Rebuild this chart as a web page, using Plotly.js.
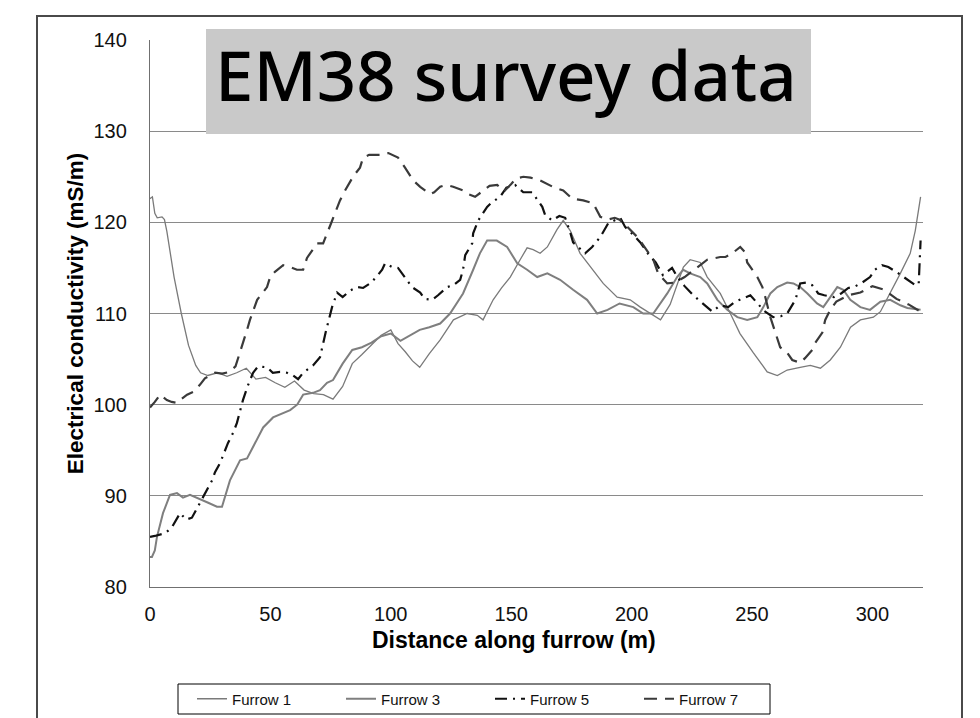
<!DOCTYPE html>
<html>
<head>
<meta charset="utf-8">
<script src="https://cdn.plot.ly/plotly-3.0.1.min.js"></script>
<style>
  html, body { margin: 0; padding: 0; background: #ffffff; }
  #chart { width: 980px; height: 718px; }
</style>
</head>
<body>
<div id="chart"></div>
<script>
// ---- Data ----
const seriesNames = ["Furrow 1", "Furrow 3", "Furrow 5", "Furrow 7"];
const titleText = "EM38 survey data";
const xTitle = "Distance along furrow (m)";
const yTitle = "Electrical conductivity (mS/m)";
const xTicks = [0, 50, 100, 150, 200, 250, 300];
const yTicks = [80, 90, 100, 110, 120, 130, 140];

const furrow1X = [0,1,2,3,5,6,7,10,13,16,19,21,24,28,32,36,40,44,48,52,56,60,64,68,72,76,80,84,88,92,96,100,103,106,109,112,116,120.5,126,131.7,135.9,138.3,142.5,146,149.6,153.7,156.6,159.1,162,165,169,171.6,174.5,178.6,182.8,188.2,194,199.4,203.6,207.7,212,216,221.5,224.3,228.5,231.4,236.8,241,245,250.5,256.3,260.5,264.6,270,274.2,278.4,282.5,286.7,290.9,295,300.4,303.3,307.4,311.6,315.7,317.8,320];
const furrow1Y = [122.6,122.8,121,120.5,120.6,120.3,119,114,110,106.5,104.3,103.5,103.2,103.5,103.1,103.5,104.0,102.8,103.0,102.4,101.9,102.6,101.6,101.2,101.1,100.6,102,104.5,105.5,106.5,107.6,108.2,106.7,105.8,104.8,104.1,105.6,107.1,109.3,110.0,109.8,109.3,111.5,112.8,114.0,115.9,117.2,117.0,116.6,117.3,119.2,120.2,119.1,116.6,115.1,113.3,111.8,111.5,110.7,110.0,109.3,111,115.1,115.9,115.6,114.0,112.2,110.0,107.8,105.7,103.6,103.2,103.8,104.1,104.3,104.0,104.9,106.3,108.5,109.3,109.6,110.2,112.2,114.4,116.6,119.1,122.8];

const furrow3X = [0,0.8,2,2.9,5.4,8.3,11.2,13.7,16.6,19.5,23.7,27.8,29.9,33.2,37.4,40.3,42.8,47,51.1,55.3,58.2,61.1,63.6,67.7,70.6,73.5,76,80,84,88,92,96,100,104,108,112,116,120.5,124.6,130,134.2,137,140,144,148.3,152.5,156.6,160.8,165,170.3,175.7,181.5,185.7,190,195,200.7,204.8,209,214.8,218.9,221.4,224.3,228.5,231.4,235.6,239.7,243.9,248,252.2,254.7,257.6,260.5,264.6,267.2,270,273,277,279.6,282.5,285.4,287.9,290.8,295,299,303.3,307.4,311.6,314.5,320];
const furrow3Y = [83.3,83.3,84,85.5,88.1,90.1,90.3,89.8,90.1,89.8,89.3,88.8,88.8,91.7,93.9,94.1,95.4,97.5,98.6,99.1,99.4,100.0,101.1,101.3,101.6,102.4,102.7,104.5,106.0,106.3,106.8,107.5,107.8,107.0,107.6,108.2,108.5,108.9,110.0,112.2,114.8,116.6,118.0,118.0,117.3,115.5,114.8,114.0,114.4,113.7,112.6,111.5,110.0,110.4,111.1,110.7,110.0,110.0,112.2,114.0,114.8,114.4,114.0,113.3,111.5,110.4,109.6,109.3,109.6,110.7,112.2,112.9,113.4,113.3,112.9,112.2,111.1,110.7,111.8,112.9,112.6,111.5,110.7,110.4,111.3,111.5,110.9,110.6,110.4];

const furrow5X = [0,2,6.2,9,12.5,15,17.4,19.9,22.8,25.8,27,29.1,32.4,34.5,36.1,38.6,40.5,42.8,44.9,48.6,51,54,56.9,59.4,61.5,63.6,67.7,70.6,73,75.6,77.7,80,83,86,88.5,91.4,94,96.4,97.6,100.5,103,105.9,108.8,112.2,114,117.2,119.6,123.4,126,128.8,130,130.9,133.8,134.2,136.3,140,142,145.4,148,151.6,155,158.7,162.9,164.1,167,170,172.4,174.5,175.7,180.7,183.6,187,190.3,195.3,197.3,200,203.6,207,210,213,216.8,219,222,225.6,228.5,233.5,236.8,240.1,243,246.4,249.3,252,255,258.8,262,264.6,268,270,272.5,275,277.5,280,284,287,290,293,295.8,299,301,304,306.6,310.3,312.8,315,317.8,319.2,320];
const furrow5Y = [85.5,85.6,85.9,86.5,88.1,87.4,87.6,88.8,90.1,91.7,92.6,93.6,95.8,96.9,98,100.5,102,103.5,104.2,104.1,103.5,103.6,103.5,103.2,102.8,103.5,104.3,105.2,108,110.7,112.3,111.8,112.5,112.9,112.8,113.3,114,114.8,115.5,115.1,115,114.0,112.9,112.3,111.6,111.5,112.0,112.9,113.1,113.7,114.8,116.4,117.7,118.8,120.2,121.7,122.2,122.8,123.8,124.1,123.3,123.3,121.7,120.8,120.2,120.7,120.5,118.9,117.8,116.6,117.3,118.4,119.9,120.5,119.5,118.8,117.8,116.5,115.6,114.2,115,114,113,112,111.3,110.2,110.9,110.7,111.3,111.7,112.0,111.2,110.3,109.6,109.7,110.0,111.5,113.3,113.4,113.1,112.2,112.0,111.8,112.2,112.8,113.0,113.4,114.0,114.8,115.3,115.1,114.5,114.0,113.6,113.1,113.2,118];

const furrow7X = [0,2,4.2,7,9,11.2,13,15.4,17.9,20.8,22.8,25,27,30,33,35.5,37.4,40.3,41.5,43.6,44.5,48.6,49.9,52,55.3,58.2,61,63.6,65.2,69.4,71.9,75.2,78.9,81,84.3,87.2,88.5,91,93.5,96.4,99,103,105.9,109.3,112.2,116.3,118,120.5,123,125.9,130,132,135,138.3,141,144.2,147,150,152,155,158,162,165.4,168,171.6,175.3,179.9,184,187,190,193,195,198.6,202.7,205.6,209,211,214.8,218,222,226,231.4,236.8,239,241.8,245.1,247.2,248,252.2,254.3,255.5,257.6,259.7,261.7,264.6,266.7,270,272,275,276.3,279.2,280.4,282.5,285,290,295,300,305,310,315,320];
const furrow7Y = [99.7,100.3,101.1,100.5,100.3,100.2,100.6,101.1,101.4,102.2,102.9,103.2,103.5,103.4,103.6,104.2,105.7,108.2,109.3,110.9,111.5,112.9,114,114.6,115.3,115.1,114.8,114.8,116.1,117.7,117.7,119.9,122.4,123.5,125,126,127.1,127.4,127.4,127.4,127.6,127.1,126,124.6,123.9,123.1,123.3,123.9,124.1,123.9,123.5,123.1,122.8,123.5,124.0,124.1,123.4,124.2,124.8,125,124.9,124.6,124.1,123.8,123.5,122.6,122.4,122.1,120.6,120.3,120.5,120.3,119.4,118.3,117.2,115.9,114.4,113.3,113.4,114.0,114.8,115.9,116.2,116.2,116.6,117.3,116.7,115.6,114.0,112.9,111.8,109.6,107.9,106.3,105.7,104.9,104.6,105.1,106.0,106.8,107.9,109.3,110.4,111.3,112,112.3,113.0,112.6,111.6,111.0,110.2];

// ---- Chart ----
const FONT = "Liberation Sans, Arial, sans-serif";
// plot area in pixels: left 150, right 923, top 40, bottom 587
const PL = 150, PW = 773, PB = 587, PH = 547;
const px = v => (v - PL) / PW;
const py = v => (PB - v) / PH;

const traces = [
  { x: furrow1X, y: furrow1Y, name: seriesNames[0], type: "scatter", mode: "lines",
    line: { color: "#7a7a7a", width: 1.3 } },
  { x: furrow3X, y: furrow3Y, name: seriesNames[1], type: "scatter", mode: "lines",
    line: { color: "#7f7f7f", width: 2 } },
  { x: furrow5X, y: furrow5Y, name: seriesNames[2], type: "scatter", mode: "lines",
    line: { color: "#111111", width: 2.2, dash: "12px,6px,2px,6px" } },
  { x: furrow7X, y: furrow7Y, name: seriesNames[3], type: "scatter", mode: "lines",
    line: { color: "#3a3a3a", width: 2.2, dash: "13px,8px" } }
];

const layout = {
  width: 980, height: 718,
  margin: { l: 150, r: 57, t: 40, b: 131, autoexpand: false },
  paper_bgcolor: "#ffffff", plot_bgcolor: "#ffffff",
  font: { family: FONT, size: 20, color: "#111111" },
  showlegend: true,
  legend: {
    orientation: "h", x: px(192), y: py(699), xanchor: "left", yanchor: "middle",
    borderwidth: 0, bgcolor: "rgba(255,255,255,0)",
    font: { family: FONT, size: 15, color: "#111111" },
    itemwidth: 30, entrywidth: 104, entrywidthmode: "pixels",
    traceorder: "normal"
  },
  xaxis: {
    range: [0, 321], tickvals: xTicks, ticktext: xTicks.map(String),
    showgrid: false, zeroline: false, showline: true, linecolor: "#707070", linewidth: 1.2,
    ticks: "outside", ticklen: 9, tickcolor: "rgba(0,0,0,0)",
    tickfont: { family: FONT, size: 20, color: "#111111" }
  },
  yaxis: {
    range: [80, 140], tickvals: yTicks, ticktext: yTicks.map(String),
    showgrid: true, gridcolor: "#8a8a8a", gridwidth: 1.2,
    zeroline: false, showline: true, linecolor: "#707070", linewidth: 1.2,
    ticks: "outside", ticklen: 18, tickcolor: "rgba(0,0,0,0)",
    tickfont: { family: FONT, size: 20, color: "#111111" },
    title: { text: yTitle, font: { family: FONT, size: 22.5, color: "#000000", weight: "bold" }, standoff: 3 }
  },
  shapes: [
    // grey title panel
    { type: "rect", xref: "paper", yref: "paper", layer: "above",
      x0: px(206), x1: px(811), y0: py(134), y1: py(29),
      fillcolor: "#c9c9c9", line: { width: 0 } },
    // outer frame
    { type: "rect", xref: "paper", yref: "paper", layer: "above",
      x0: px(37), x1: px(962), y0: py(740), y1: py(16),
      fillcolor: "rgba(0,0,0,0)", line: { color: "#4a4a4a", width: 2 } },
    // legend frame
    { type: "rect", xref: "paper", yref: "paper", layer: "below",
      x0: px(178), x1: px(770), y0: py(714), y1: py(684),
      fillcolor: "#ffffff", line: { color: "#000000", width: 1 } }
  ],
  annotations: [
    { text: titleText, xref: "paper", yref: "paper", showarrow: false,
      x: px(506), y: py(74), xanchor: "center", yanchor: "middle",
      font: { family: "Noto Sans, Inter, sans-serif", size: 69, color: "#000000", weight: 500 } },
    { text: "<b>" + xTitle + "</b>", xref: "paper", yref: "paper", showarrow: false,
      x: px(514), y: py(640), xanchor: "center", yanchor: "middle",
      font: { family: FONT, size: 23, color: "#000000" } }
  ]
};

Plotly.newPlot("chart", traces, layout, { staticPlot: true, displayModeBar: false });
</script>
</body>
</html>
